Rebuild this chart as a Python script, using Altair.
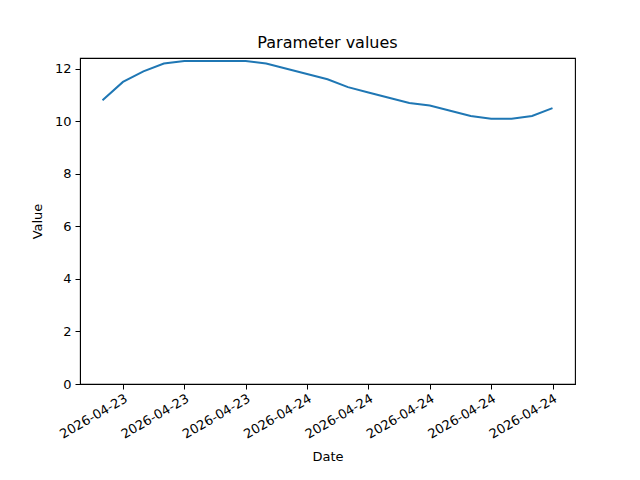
import altair as alt
import pandas as pd

dates = pd.date_range("2026-04-23 14:00", "2026-04-24 12:00", freq="h").strftime("%Y-%m-%dT%H:%M:%S").tolist()
values = [10.8, 11.5, 11.9, 12.2, 12.3, 12.3, 12.3, 12.3, 12.2, 12.0, 11.8, 11.6,
          11.3, 11.1, 10.9, 10.7, 10.6, 10.4, 10.2, 10.1, 10.1, 10.2, 10.5]
tick_hours = [(23, 15), (23, 18), (23, 21), (24, 0), (24, 3), (24, 6), (24, 9), (24, 12)]

df = pd.DataFrame({"Date": dates, "Value": values})

font = "DejaVu Sans"
tick_vals = [alt.DateTime(year=2026, month=4, date=d, hours=h) for d, h in tick_hours]

chart = alt.Chart(df).mark_line(color="#1f77b4", strokeWidth=2).encode(
    x=alt.X("Date:T",
            scale=alt.Scale(domain=[alt.DateTime(year=2026, month=4, date=23, hours=12, minutes=54),
                                    alt.DateTime(year=2026, month=4, date=24, hours=13, minutes=6)],
                            nice=False),
            axis=alt.Axis(values=tick_vals, format="%Y-%m-%d", labelAngle=-30, labelAlign="right",
                          labelBaseline="top", title="Date", grid=False, tickSize=5,
                          labelFontSize=13, titleFontSize=13, labelFont=font, titleFont=font,
                          labelColor="black", titleColor="black", tickColor="black",
                          domainColor="black", titleFontWeight="normal", labelPadding=3,
                          titlePadding=9, labelOverlap=False, labelFlush=False)),
    y=alt.Y("Value:Q",
            scale=alt.Scale(domain=[0, 12.41], nice=False, zero=True),
            axis=alt.Axis(values=[0, 2, 4, 6, 8, 10, 12], title="Value", grid=False, tickSize=5,
                          labelFontSize=13, titleFontSize=13, labelFont=font, titleFont=font,
                          labelColor="black", titleColor="black", tickColor="black",
                          domainColor="black", titleFontWeight="normal", labelPadding=4,
                          titlePadding=10, labelFlush=False)),
).properties(
    width=495, height=326,
    title=alt.TitleParams("Parameter values", font=font, fontSize=16, fontWeight="normal",
                          color="black", anchor="middle", offset=6),
    autosize=alt.AutoSizeParams(type="none"),
    padding={"left": 72, "top": 50, "right": 57, "bottom": 88},
).configure_view(stroke="black", strokeWidth=1.1)

chart.save("out.html", embed_options={"renderer": "svg", "actions": False})
